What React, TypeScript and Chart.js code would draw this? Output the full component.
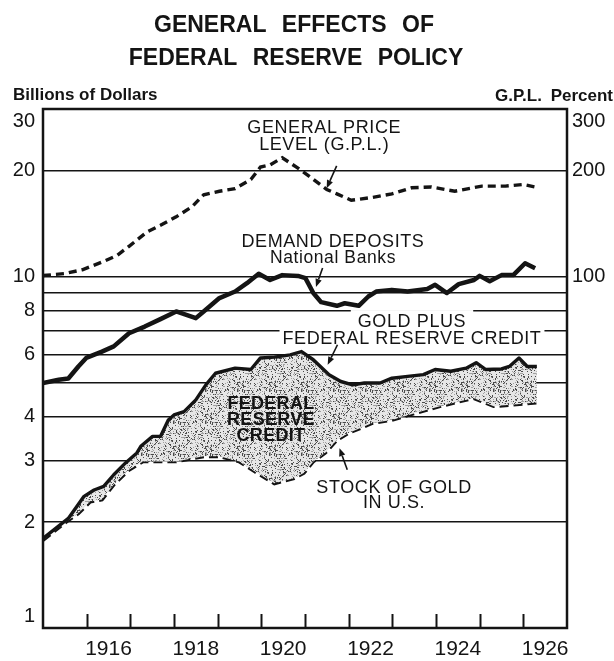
import React, { useEffect, useRef } from 'react';
import { Chart, registerables } from 'chart.js';

Chart.register(...registerables);

// ---------- data ----------
const GPL_YEARS = [1915.0, 1915.49, 1915.9, 1916.35, 1916.7, 1916.97, 1917.38, 1917.69, 1918.05, 1918.41, 1918.68, 1919.04, 1919.4, 1919.76, 1919.98, 1920.2, 1920.48, 1920.83, 1921.1, 1921.5, 1921.73, 1922.06, 1922.54, 1922.99, 1923.44, 1923.89, 1924.43, 1925.05, 1925.59, 1926.0, 1926.27];
const GPL_PERCENT = [100.7, 102, 104.6, 110, 115, 122, 134, 140, 148, 158, 171, 175, 178, 189, 205, 208, 218, 204, 193, 177, 172, 165, 168, 172, 179, 180, 175, 181, 181, 183, 180];

const DEMAND_YEARS = [1915.0, 1915.36, 1915.58, 1915.81, 1915.99, 1916.35, 1916.62, 1916.97, 1917.33, 1917.69, 1918.05, 1918.5, 1918.68, 1919.04, 1919.4, 1919.67, 1919.94, 1920.2, 1920.48, 1920.84, 1921.01, 1921.19, 1921.37, 1921.73, 1921.91, 1922.23, 1922.45, 1922.63, 1922.99, 1923.35, 1923.8, 1923.98, 1924.25, 1924.52, 1924.87, 1925.0, 1925.23, 1925.5, 1925.77, 1926.04, 1926.27];
const DEMAND_DEPOSITS = [4.98, 5.09, 5.13, 5.55, 5.87, 6.12, 6.33, 6.9, 7.21, 7.57, 7.96, 7.62, 7.96, 8.69, 9.07, 9.58, 10.19, 9.78, 10.1, 10.05, 9.9, 8.98, 8.46, 8.26, 8.4, 8.26, 8.78, 9.07, 9.17, 9.07, 9.22, 9.48, 8.98, 9.52, 9.78, 10.05, 9.7, 10.1, 10.1, 10.92, 10.57];

const GOLD_FRC_YEARS = [1915.0, 1915.58, 1915.94, 1916.17, 1916.39, 1916.62, 1916.89, 1917.15, 1917.24, 1917.51, 1917.69, 1917.87, 1918.0, 1918.23, 1918.5, 1918.73, 1918.95, 1919.4, 1919.76, 1919.98, 1920.3, 1920.66, 1920.92, 1921.19, 1921.55, 1921.82, 1922.09, 1922.36, 1922.72, 1922.99, 1923.35, 1923.71, 1923.98, 1924.34, 1924.69, 1924.92, 1925.14, 1925.5, 1925.68, 1925.9, 1926.09, 1926.31];
const GOLD_PLUS_FRC = [1.8, 2.05, 2.37, 2.47, 2.53, 2.73, 2.95, 3.15, 3.29, 3.51, 3.51, 3.91, 4.04, 4.13, 4.46, 4.92, 5.31, 5.49, 5.44, 5.87, 5.9, 5.99, 6.12, 5.8, 5.26, 5.03, 4.92, 4.98, 4.98, 5.14, 5.2, 5.26, 5.44, 5.38, 5.49, 5.69, 5.44, 5.46, 5.55, 5.87, 5.55, 5.55];

const GOLD_YEARS = [1915.0, 1915.54, 1915.81, 1916.08, 1916.35, 1916.62, 1916.97, 1917.29, 1918.05, 1918.68, 1919.04, 1919.49, 1919.85, 1920.3, 1920.75, 1920.97, 1921.19, 1921.46, 1921.73, 1922.0, 1922.54, 1922.99, 1923.53, 1924.07, 1924.52, 1924.87, 1925.14, 1925.32, 1925.68, 1926.31];
const GOLD_STOCK = [1.78, 2.01, 2.12, 2.29, 2.32, 2.56, 2.82, 2.98, 2.98, 3.08, 3.08, 2.98, 2.79, 2.58, 2.67, 2.76, 2.98, 3.15, 3.43, 3.59, 3.83, 3.91, 4.09, 4.27, 4.41, 4.51, 4.37, 4.28, 4.31, 4.38];

const TICK_YEARS = [1916, 1917, 1918, 1919, 1920, 1921, 1922, 1923, 1924, 1925, 1926];
const YEAR_LABELS = [1916, 1918, 1920, 1922, 1924, 1926];
const LEFT_GRID = [1, 2, 3, 4, 5, 6, 7, 8, 9, 10, 20, 30];
const LEFT_LABELS = [1, 2, 3, 4, 6, 8, 10, 20, 30];
const RIGHT_LABELS = [100, 200, 300];

const TITLE_LINES = ['GENERAL EFFECTS OF', 'FEDERAL RESERVE POLICY'];

// ---------- styling ----------
const FONT = '"Liberation Sans", Arial, Helvetica, sans-serif';
const INK = '#141414';

const ANNOTATIONS = [
  { year: 1921.44, value: 26.73, lines: ['GENERAL PRICE', 'LEVEL (G.P.L.)'], sizes: [18, 18], bold: false, gap: 16.6, box: '' },
  { year: 1921.64, value: 12.67, lines: ['DEMAND DEPOSITS', 'National Banks'], sizes: [18, 17.5], bold: false, gap: 16.6, box: '' },
  { year: 1923.45, value: 7.5, lines: ['GOLD PLUS', 'FEDERAL RESERVE CREDIT'], sizes: [18, 18], bold: false, gap: 17, box: 'white' },
  { year: 1920.22, value: 4.39, lines: ['FEDERAL', 'RESERVE', 'CREDIT'], sizes: [18, 18, 18], bold: true, gap: 16, box: 'pattern' },
  { year: 1923.04, value: 2.53, lines: ['STOCK OF GOLD', 'IN U.S.'], sizes: [18, 18], bold: false, gap: 15, box: '' },
];

const ARROWS = [
  { from: [1921.725, 20.66], to: [1921.496, 17.86] },
  { from: [1921.403, 10.59], to: [1921.251, 9.35] },
  { from: [1921.744, 6.4], to: [1921.519, 5.61] },
  { from: [1921.968, 2.82], to: [1921.79, 3.25] },
];

// stipple texture tile (deterministic speckle) for the Federal Reserve Credit band
function makeStipple(): CanvasPattern | string {
  const N = 32;
  const t = document.createElement('canvas');
  t.width = N;
  t.height = N;
  const c = t.getContext('2d');
  if (!c) return '#cfcfcf';
  c.fillStyle = '#e6e6e6';
  c.fillRect(0, 0, N, N);
  for (let j = 0; j < N; j++) {
    for (let i = 0; i < N; i++) {
      let h = (Math.imul(i + 1, 374761393) + Math.imul(j + 7, 668265263)) >>> 0;
      h = Math.imul(h ^ (h >>> 13), 1274126177) >>> 0;
      h = (h ^ (h >>> 16)) >>> 0;
      const v = h % 100;
      if (v < 14) {
        c.fillStyle = '#4a4a4a';
        c.fillRect(i, j, 1, 1);
      } else if (v < 26) {
        c.fillStyle = '#a0a0a0';
        c.fillRect(i, j, 1, 1);
      }
    }
  }
  const p = c.createPattern(t, 'repeat');
  return p || '#cfcfcf';
}

const pts = (xs: number[], ys: number[]) => xs.map((x, i) => ({ x, y: ys[i] }));

export default function App() {
  const ref = useRef<HTMLCanvasElement>(null);

  useEffect(() => {
    const canvas = ref.current;
    if (!canvas) return;
    const stipple = makeStipple();

    const decor = {
      id: 'decor',
      afterDraw(chart: any) {
        const { ctx, chartArea: a, scales } = chart;
        const xs = scales.x;
        const ys = scales.y;
        ctx.save();

        // frame
        ctx.strokeStyle = INK;
        ctx.lineWidth = 2.5;
        ctx.strokeRect(a.left, a.top, a.right - a.left, a.bottom - a.top);

        // inward year ticks
        ctx.lineWidth = 2;
        for (const yr of TICK_YEARS) {
          const px = Math.round(xs.getPixelForValue(yr)) + 0.5;
          ctx.beginPath();
          ctx.moveTo(px, a.bottom);
          ctx.lineTo(px, a.bottom - 14);
          ctx.stroke();
        }

        // title
        ctx.fillStyle = INK;
        ctx.textAlign = 'center';
        ctx.textBaseline = 'alphabetic';
        ctx.font = `bold 23px ${FONT}`;
        (ctx as any).wordSpacing = '9px';
        ctx.fillText(TITLE_LINES[0], 294, 31.7);
        ctx.fillText(TITLE_LINES[1], 296, 65);
        (ctx as any).wordSpacing = '0px';

        // axis titles
        ctx.font = `bold 17px ${FONT}`;
        ctx.textAlign = 'left';
        ctx.fillText('Billions of Dollars', 13, 99.5);
        ctx.textAlign = 'right';
        (ctx as any).wordSpacing = '4px';
        ctx.fillText('G.P.L. Percent', 613, 101);
        (ctx as any).wordSpacing = '0px';

        // annotations
        ctx.textAlign = 'center';
        for (const an of ANNOTATIONS) {
          const cx = xs.getPixelForValue(an.year);
          const cy0 = ys.getPixelForValue(an.value);
          const weight = an.bold ? 'bold ' : '';
          (ctx as any).letterSpacing = an.bold ? '0.3px' : '0.6px';
          const widths = an.lines.map((t, i) => {
            ctx.font = `${weight}${an.sizes[i]}px ${FONT}`;
            return ctx.measureText(t).width;
          });
          if (an.box === 'white') {
            ctx.fillStyle = '#ffffff';
            an.lines.forEach((_, i) => {
              const cy = cy0 + i * an.gap;
              const w = widths[i] + (i === 0 ? 14 : 6);
              ctx.fillRect(cx - w / 2, cy - 10.5, w, 20);
            });
          } else if (an.box === 'pattern') {
            ctx.fillStyle = stipple;
            const w = Math.max(...widths) + 22;
            const top = cy0 - 9;
            const bottom = cy0 + (an.lines.length - 1) * an.gap + 9;
            ctx.fillRect(cx - w / 2, top, w, bottom - top);
          }
          ctx.fillStyle = INK;
          an.lines.forEach((t, i) => {
            const size = an.sizes[i];
            ctx.font = `${weight}${size}px ${FONT}`;
            const cy = cy0 + i * an.gap;
            ctx.fillText(t, cx, cy + 0.358 * size);
          });
          (ctx as any).letterSpacing = '0px';
        }

        // arrows
        ctx.strokeStyle = INK;
        ctx.fillStyle = INK;
        ctx.lineWidth = 1.6;
        for (const ar of ARROWS) {
          const x1 = xs.getPixelForValue(ar.from[0]);
          const y1 = ys.getPixelForValue(ar.from[1]);
          const x2 = xs.getPixelForValue(ar.to[0]);
          const y2 = ys.getPixelForValue(ar.to[1]);
          const ang = Math.atan2(y2 - y1, x2 - x1);
          const L = 8;
          const W = 3.2;
          const bx = x2 - L * Math.cos(ang);
          const by = y2 - L * Math.sin(ang);
          ctx.beginPath();
          ctx.moveTo(x1, y1);
          ctx.lineTo(bx, by);
          ctx.stroke();
          ctx.beginPath();
          ctx.moveTo(x2, y2);
          ctx.lineTo(bx + W * Math.sin(ang), by - W * Math.cos(ang));
          ctx.lineTo(bx - W * Math.sin(ang), by + W * Math.cos(ang));
          ctx.closePath();
          ctx.fill();
        }

        ctx.restore();
      },
    };

    const chart = new Chart(canvas, {
      type: 'line',
      data: {
        datasets: [
          {
            label: 'General Price Level (G.P.L.)',
            data: pts(GPL_YEARS, GPL_PERCENT),
            yAxisID: 'y1',
            borderColor: INK,
            borderWidth: 3.4,
            borderDash: [8, 5],
            pointRadius: 0,
            fill: false,
            tension: 0,
          },
          {
            label: 'Demand Deposits, National Banks',
            data: pts(DEMAND_YEARS, DEMAND_DEPOSITS),
            yAxisID: 'y',
            borderColor: INK,
            borderWidth: 4.5,
            borderJoinStyle: 'round',
            pointRadius: 0,
            fill: false,
            tension: 0,
          },
          {
            label: 'Gold plus Federal Reserve Credit',
            data: pts(GOLD_FRC_YEARS, GOLD_PLUS_FRC),
            yAxisID: 'y',
            borderColor: INK,
            borderWidth: 3.4,
            borderJoinStyle: 'round',
            pointRadius: 0,
            backgroundColor: stipple as any,
            fill: '+1',
            tension: 0,
          },
          {
            label: 'Stock of Gold in U.S.',
            data: pts(GOLD_YEARS, GOLD_STOCK),
            yAxisID: 'y',
            borderColor: INK,
            borderWidth: 3.8,
            borderDash: [9, 5],
            pointRadius: 0,
            fill: false,
            tension: 0,
          },
        ],
      },
      options: {
        responsive: false,
        animation: false,
        devicePixelRatio: 1,
        layout: { padding: { top: 109, left: 0, right: 0, bottom: 0 } },
        plugins: {
          legend: { display: false },
          title: { display: false },
          tooltip: { enabled: false },
        },
        scales: {
          x: {
            type: 'linear',
            position: 'bottom',
            min: 1915,
            max: 1927,
            grid: { display: false, drawTicks: false },
            border: { display: false },
            afterBuildTicks: (s: any) => {
              s.ticks = YEAR_LABELS.map((y) => ({ value: y + 0.5 }));
            },
            ticks: {
              autoSkip: false,
              maxRotation: 0,
              padding: 9,
              color: INK,
              font: { family: FONT, size: 21 },
              callback: (v: any) => String(Math.floor(Number(v))),
            },
            afterFit: (s: any) => {
              s.height = 33;
            },
          },
          y: {
            type: 'logarithmic',
            position: 'left',
            min: 1,
            max: 30,
            z: 1,
            afterBuildTicks: (s: any) => {
              s.ticks = LEFT_GRID.map((v) => ({ value: v }));
            },
            grid: {
              color: (c: any) => (c.tick && (c.tick.value === 1 || c.tick.value === 30) ? 'rgba(0,0,0,0)' : INK),
              lineWidth: 1.5,
              drawTicks: false,
            },
            border: { display: false },
            ticks: {
              autoSkip: false,
              padding: 8,
              color: INK,
              font: { family: FONT, size: 20 },
              callback: (v: any) => {
                const n = Number(v);
                if (!LEFT_LABELS.includes(n)) return '';
                if (n === 30) return ['', '30'];
                if (n === 1) return ['1', ''];
                return String(n);
              },
            },
            afterFit: (s: any) => {
              s.width = 43;
            },
          },
          y1: {
            type: 'logarithmic',
            position: 'right',
            min: 10,
            max: 300,
            afterBuildTicks: (s: any) => {
              s.ticks = RIGHT_LABELS.map((v) => ({ value: v }));
            },
            grid: { display: false, drawTicks: false },
            border: { display: false },
            ticks: {
              autoSkip: false,
              padding: 5,
              color: INK,
              font: { family: FONT, size: 20 },
              callback: (v: any) => {
                const n = Number(v);
                if (n === 300) return ['', '300'];
                return String(n);
              },
            },
            afterFit: (s: any) => {
              s.width = 47;
            },
          },
        },
      } as any,
      plugins: [decor],
    });

    return () => chart.destroy();
  }, []);

  return (
    <div style={{ position: 'absolute', left: 0, top: 0, width: 614, height: 661, background: '#ffffff' }}>
      <canvas ref={ref} width={614} height={661} style={{ display: 'block', width: 614, height: 661 }} />
    </div>
  );
}
